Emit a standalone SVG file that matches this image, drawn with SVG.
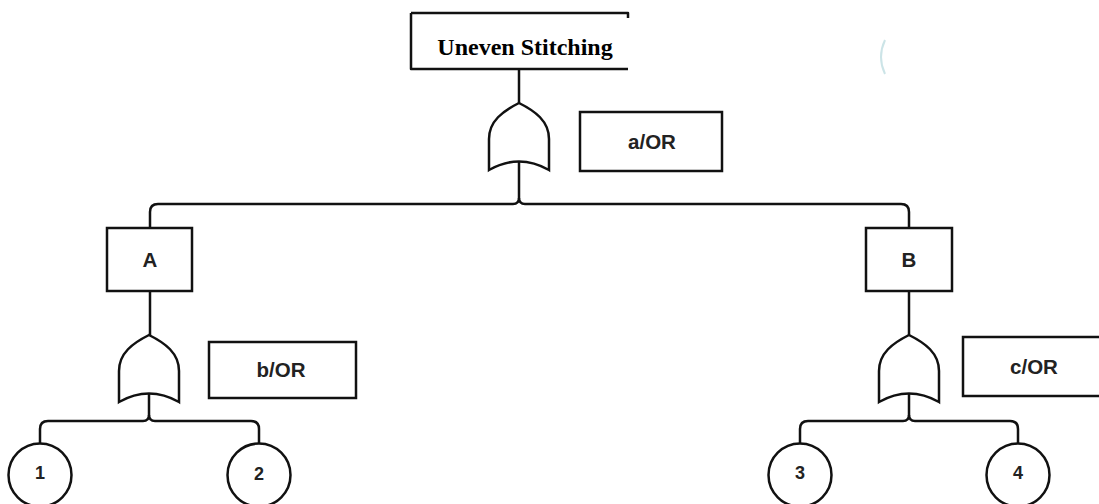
<svg xmlns="http://www.w3.org/2000/svg" width="1099" height="504" viewBox="0 0 1099 504">
  <style>
    .ln { fill: none; stroke: #111; stroke-width: 2.5; stroke-linejoin: round; }
    .box { fill: #fff; stroke: #111; stroke-width: 2.5; }
    .gate { fill: #fff; stroke: #111; stroke-width: 2.5; stroke-linejoin: miter; }
    .evt { fill: #fff; stroke: #111; stroke-width: 2.5; }
    .lbl { font-family: "Liberation Sans", Arial, sans-serif; font-size: 20.5px; font-weight: bold; fill: #222; text-anchor: middle; }
    .num { font-family: "Liberation Sans", Arial, sans-serif; font-size: 18px; font-weight: bold; fill: #222; text-anchor: middle; }
    .title { font-family: "Liberation Serif", "Times New Roman", serif; font-size: 24px; font-weight: bold; fill: #000; text-anchor: middle; }
  </style>
  <defs>
    <!-- OR gate, pointing up, origin at the apex -->
    <path id="orGate" d="M 0 0 C -16 8 -30 18 -30 36 L -30 67 Q 0 50 30 67 L 30 36 C 30 18 16 8 0 0 Z"/>
  </defs>

  <rect width="1099" height="504" fill="#fff"/>

  <!-- connectors -->
  <g id="connectors">
    <path class="ln" d="M 519 69 V 103"/>
    <path class="ln" d="M 519 161 V 198 Q 519 204 513 204 H 158 Q 150 204 150 212 V 228"/>
    <path class="ln" d="M 519 198 Q 519 204 525 204 H 901 Q 909 204 909 212 V 228"/>
    <path class="ln" d="M 150 291 V 335"/>
    <path class="ln" d="M 909 291 V 335"/>
    <path class="ln" d="M 149 393 V 415 Q 149 421 143 421 H 48 Q 40 421 40 429 V 443"/>
    <path class="ln" d="M 149 415 Q 149 421 155 421 H 251 Q 259 421 259 429 V 443"/>
    <path class="ln" d="M 909 393 V 415 Q 909 421 903 421 H 808 Q 800 421 800 429 V 443"/>
    <path class="ln" d="M 909 415 Q 909 421 915 421 H 1010 Q 1018 421 1018 429 V 443"/>
  </g>

  <!-- top event -->
  <g id="top-event">
    <rect x="411" y="13" width="217" height="56" fill="#fff"/>
    <path class="ln" d="M 411 13 H 628 V 18 M 411 13 V 69 H 628"/>
    <text class="title" x="525" y="55">Uneven Stitching</text>
  </g>

  <!-- faint cropped icon edge -->
  <path d="M 885 40 Q 877 57 885 74" fill="none" stroke="#7fbcc4" stroke-width="2" opacity="0.4"/>

  <g id="gate-a">
    <use href="#orGate" class="gate" x="519" y="103"/>
  </g>
  <g id="label-a">
    <rect class="box" x="580" y="112" width="142" height="59"/>
    <text class="lbl" x="652" y="149">a/OR</text>
  </g>

  <g id="event-A">
    <rect class="box" x="107" y="228" width="85" height="63"/>
    <text class="lbl" x="150" y="267">A</text>
  </g>
  <g id="event-B">
    <rect class="box" x="866" y="228" width="86" height="63"/>
    <text class="lbl" x="909" y="267">B</text>
  </g>

  <g id="gate-b">
    <use href="#orGate" class="gate" x="149" y="335"/>
  </g>
  <g id="label-b">
    <rect class="box" x="209" y="342" width="147" height="56"/>
    <text class="lbl" x="281" y="377">b/OR</text>
  </g>

  <g id="gate-c">
    <use href="#orGate" class="gate" x="909" y="335"/>
  </g>
  <g id="label-c">
    <rect class="box" x="963" y="337" width="150" height="59"/>
    <text class="lbl" x="1034" y="374">c/OR</text>
  </g>

  <g id="basic-1">
    <circle class="evt" cx="40" cy="475" r="31.5"/>
    <text class="num" x="40" y="479">1</text>
  </g>
  <g id="basic-2">
    <circle class="evt" cx="259" cy="475" r="31.5"/>
    <text class="num" x="259" y="480">2</text>
  </g>
  <g id="basic-3">
    <circle class="evt" cx="800" cy="475" r="31.5"/>
    <text class="num" x="800" y="479">3</text>
  </g>
  <g id="basic-4">
    <circle class="evt" cx="1018" cy="475" r="31.5"/>
    <text class="num" x="1018" y="479">4</text>
  </g>
</svg>
